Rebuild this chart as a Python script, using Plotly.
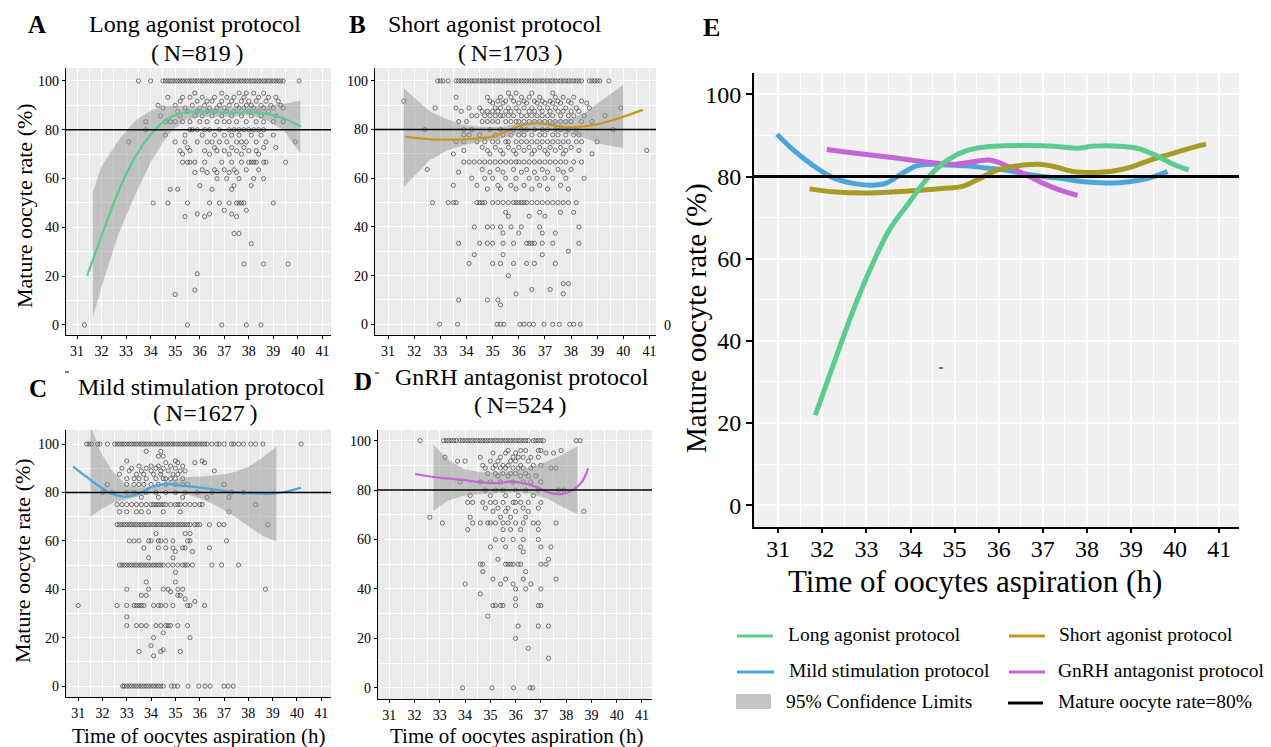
import plotly.graph_objects as go

W, H = 1271, 747
SERIF = "Liberation Serif"

# ------------------------------------------------------------------ data
x_ticks = [31, 32, 33, 34, 35, 36, 37, 38, 39, 40, 41]
y_ticks = [0, 20, 40, 60, 80, 100]
ref_rate = 80

# ---- Panel A : Long agonist protocol (N=819)
A_levels = [100, 95, 93.3, 91.7, 90, 88.9, 87.5, 85.7, 83.3, 80, 77.8, 75, 72.7, 71.4, 70,
            66.7, 63.6, 62.5, 60, 57.1, 55.6, 50, 47, 45.5, 44.4, 37.5, 33.3, 25, 21, 14.3, 12.5, 0]
A_level_x = [
    [33.5, 34.0, 34.5, 34.6, 34.7, 34.8, 34.9, 35.0, 35.1, 35.2, 35.3, 35.4, 35.5, 35.6, 35.7, 35.8,
     35.9, 36.0, 36.1, 36.2, 36.3, 36.4, 36.5, 36.6, 36.7, 36.8, 36.9, 37.0, 37.1, 37.2, 37.3, 37.4,
     37.5, 37.6, 37.7, 37.8, 37.9, 38.0, 38.1, 38.2, 38.3, 38.4, 38.5, 38.6, 38.7, 38.8, 38.9, 39.0,
     39.1, 39.2, 39.3, 39.4, 40.05],
    [35.8, 36.9, 37.6, 37.9, 38.2, 38.6],
    [34.7, 35.3, 35.6, 36.1, 36.6, 37.1, 37.4, 37.8, 38.4, 38.8, 39.1],
    [35.2, 35.9, 36.3, 36.5, 36.9, 37.3, 37.7, 38.0, 38.3, 38.7, 39.2],
    [34.3, 35.0, 35.7, 36.2, 36.8, 37.2, 37.5, 37.9, 38.1, 38.5, 38.9, 39.3],
    [34.5, 35.4, 36.0, 36.4, 36.7, 37.0, 37.6, 37.8, 38.2, 38.6, 39.0, 39.4],
    [35.1, 35.5, 35.9, 36.3, 36.6, 37.1, 37.4, 38.0, 38.4, 38.8],
    [34.4, 35.2, 35.8, 36.1, 36.5, 36.9, 37.3, 37.7, 38.1, 38.5, 39.1],
    [33.8, 34.6, 34.8, 35.0, 35.3, 35.6, 36.0, 36.3, 36.7, 37.0, 37.2, 37.5, 37.9, 38.3, 38.6, 39.0, 39.4],
    [33.8, 35.6, 35.7, 35.9, 36.2, 36.4, 36.8, 37.2, 37.4, 37.6, 37.8, 38.0, 38.2, 38.4, 38.6],
    [34.6, 35.4, 36.1, 36.6, 37.0, 37.3, 37.6, 38.1, 38.5, 39.0],
    [33.1, 35.0, 35.4, 35.9, 36.3, 36.5, 36.8, 37.1, 37.5, 37.7, 37.9, 38.3, 38.7, 39.9],
    [35.5, 36.6, 37.3, 37.8, 38.6, 39.1],
    [35.2, 35.6, 36.2, 36.7, 37.0, 37.5, 38.0, 38.3],
    [35.3, 36.4, 37.2, 37.7, 38.4],
    [35.3, 35.5, 35.6, 35.8, 36.2, 36.9, 37.3, 37.7, 38.0, 38.1, 38.2, 38.3, 38.6, 38.7, 39.5],
    [36.1, 36.6, 37.0, 37.4, 37.9, 38.4],
    [35.8, 36.3, 36.7, 37.2, 37.5],
    [36.7, 37.1, 37.6, 38.2, 38.6],
    [36.0, 37.4, 38.1],
    [34.8, 35.1, 36.5, 37.3],
    [34.1, 34.7, 35.5, 36.4, 36.8, 37.2, 37.5, 37.6, 37.7, 37.8, 39.0],
    [37.0, 37.9],
    [35.9, 36.4, 37.3],
    [35.4, 36.2, 37.5],
    [37.4, 37.6],
    [38.1],
    [37.8, 38.6, 39.6],
    [35.9],
    [35.8],
    [35.0],
    [31.3, 35.5, 36.9, 37.9, 38.5],
]
A_curve_x = [31.41, 32.04, 32.71, 33.38, 34.05, 34.72, 35.39, 36.05, 36.72, 37.39, 38.06, 38.73, 39.40, 40.13]
A_curve_y = [20.1, 37.6, 55.3, 69.0, 78.6, 84.7, 87.0, 87.4, 87.2, 87.0, 87.2, 86.5, 84.7, 81.3]
A_band_x = [31.65, 32.0, 32.7, 33.4, 34.05, 34.7, 35.4, 36.05, 36.7, 37.4, 38.05, 38.7, 39.4, 40.1]
A_band_hi = [54.6, 65.0, 75.8, 84.0, 88.1, 89.8, 89.8, 89.2, 89.0, 89.2, 89.5, 89.8, 90.6, 91.9]
A_band_lo = [3.4, 15.7, 37.6, 54.0, 67.6, 77.9, 84.0, 85.4, 85.4, 85.4, 86.0, 84.0, 80.0, 70.4]

# ---- Panel B : Short agonist protocol (N=1703)
B_levels = [100, 95, 93.3, 91.7, 90.9, 88.9, 87.5, 85.7, 83.3, 80, 77.8, 75, 72.7, 71.4, 70, 66.7,
            63.6, 62.5, 60, 57.1, 55.6, 50, 46, 44.4, 40, 37.5, 33.3, 30, 28.6, 25, 20, 16.7, 14.3,
            12.5, 10, 8, 0]
B_level_x = [
    [32.9, 33.0, 33.1, 33.3, 33.6, 33.7, 33.8, 33.9, 34.0, 34.1, 34.2, 34.3, 34.4, 34.5, 34.6, 34.7,
     34.8, 34.9, 35.0, 35.1, 35.2, 35.3, 35.4, 35.5, 35.6, 35.7, 35.8, 35.9, 36.0, 36.1, 36.2, 36.3,
     36.4, 36.5, 36.6, 36.7, 36.8, 36.9, 37.0, 37.1, 37.2, 37.3, 37.4, 37.5, 37.6, 37.7, 37.8, 37.9,
     38.0, 38.1, 38.2, 38.3, 38.4, 38.7, 38.8, 38.9, 39.0, 39.1, 39.45],
    [35.6, 35.9, 36.5, 37.3],
    [33.6, 34.8, 35.3, 35.7, 36.1, 36.4, 36.8, 37.4, 37.7, 38.1],
    [31.6, 34.9, 35.2, 35.5, 35.8, 36.2, 36.6, 36.9, 37.2, 37.5, 37.9, 38.4],
    [35.0, 35.4, 36.0, 36.3, 36.7, 37.0, 37.3, 37.6, 38.0, 38.6],
    [32.8, 33.6, 34.1, 34.5, 35.1, 35.3, 35.6, 35.9, 36.2, 36.5, 36.8, 37.1, 37.4, 37.8, 38.2, 38.7, 39.9],
    [33.8, 34.6, 34.8, 35.0, 35.2, 35.5, 35.7, 36.0, 36.4, 36.6, 36.9, 37.2, 37.5, 37.7, 38.0, 38.3],
    [34.2, 34.4, 34.7, 34.9, 35.1, 35.3, 35.4, 35.6, 35.8, 36.1, 36.3, 36.5, 36.7, 36.9, 37.1, 37.3,
     37.6, 37.9, 38.1, 38.5, 39.3],
    [33.7, 34.0, 34.6, 34.8, 35.0, 35.2, 35.5, 35.7, 35.9, 36.0, 36.2, 36.4, 36.6, 36.8, 37.0, 37.2,
     37.4, 37.6, 37.8, 38.0, 38.4, 38.8],
    [32.4, 33.9, 34.2, 34.9, 35.3, 35.8, 36.1, 36.3, 36.6, 36.9, 37.1, 37.4, 37.6, 37.9, 38.2, 39.6],
    [33.9, 34.1, 34.5, 35.1, 35.4, 35.7, 36.0, 36.2, 36.5, 36.8, 37.0, 37.3, 37.5, 37.8, 38.1, 38.3],
    [33.6, 33.9, 34.4, 34.7, 35.0, 35.2, 35.5, 35.6, 35.9, 36.1, 36.3, 36.5, 36.7, 36.9, 37.1, 37.3,
     37.5, 37.7, 37.9, 38.2, 38.4, 39.0],
    [34.6, 35.1, 35.6, 36.0, 36.4, 36.8, 37.2, 37.6, 38.0],
    [33.9, 34.8, 35.3, 35.8, 36.2, 36.6, 37.0, 37.4, 37.8, 38.3, 40.9],
    [33.5, 34.9, 35.4, 35.9, 36.5, 37.1, 37.7, 38.8],
    [33.9, 34.1, 34.3, 34.5, 34.7, 34.9, 35.1, 35.3, 35.5, 35.7, 35.9, 36.0, 36.2, 36.4, 36.6, 36.8,
     37.0, 37.2, 37.4, 37.6, 37.8, 38.1, 38.4],
    [32.5, 34.6, 35.2, 35.8, 36.3, 36.9, 37.5, 38.0],
    [33.7, 34.9, 35.4, 36.1, 36.6, 37.1, 37.7],
    [34.2, 34.7, 35.0, 35.5, 35.9, 36.4, 36.7, 37.0, 37.3, 37.8, 38.5],
    [33.5, 34.4, 35.2, 35.7, 36.2, 36.8, 37.6],
    [34.8, 35.3, 35.9, 36.5, 37.1, 37.9],
    [32.7, 33.3, 33.5, 33.6, 34.4, 34.5, 34.6, 34.7, 35.0, 35.2, 35.4, 35.6, 35.8, 35.9, 36.0, 36.1,
     36.2, 36.3, 36.5, 36.7, 36.9, 37.1, 37.3, 37.5, 37.7, 37.9, 38.2],
    [35.5, 36.8, 37.6, 38.1],
    [35.6, 36.4, 37.0],
    [34.3, 34.8, 35.0, 35.3, 35.7, 36.1, 36.8, 38.3],
    [35.4, 36.0, 36.9, 37.4],
    [33.7, 34.5, 34.8, 35.0, 35.4, 35.8, 36.3, 36.4, 36.5, 36.6, 36.9, 37.3, 38.3],
    [37.9],
    [34.3, 35.4, 36.9],
    [34.1, 35.0, 35.3, 35.8, 36.3, 36.6, 37.4],
    [35.6],
    [37.7, 37.9],
    [36.5, 37.2],
    [35.9, 37.7],
    [33.7, 34.8, 35.2],
    [35.3],
    [32.97, 33.66, 35.17, 35.3, 35.43, 36.04, 36.2, 36.4, 36.56, 36.97, 37.3, 37.55, 37.95, 38.1, 38.35],
]
B_curve_x = [31.65, 32.63, 33.94, 34.99, 35.51, 36.03, 36.69, 37.21, 37.86, 38.65, 39.17, 39.82, 40.74]
B_curve_y = [77.1, 76.0, 76.0, 77.1, 79.1, 81.5, 82.6, 81.9, 80.9, 81.5, 82.6, 84.6, 88.1]
B_band_x = [31.6, 32.1, 32.6, 33.3, 33.9, 34.6, 35.25, 35.9, 36.55, 37.2, 37.85, 38.5, 39.2, 40.0]
B_band_hi = [97.0, 92.2, 87.4, 84.0, 81.9, 81.2, 81.2, 82.3, 83.7, 83.7, 84.0, 86.7, 92.2, 98.4]
B_band_lo = [56.5, 62.0, 67.5, 71.6, 73.7, 75.0, 76.0, 78.0, 79.3, 79.6, 78.6, 76.5, 74.0, 72.3]

# ---- Panel C : Mild stimulation protocol (N=1627)
C_levels = [100, 97, 95, 93, 92.3, 90.9, 90, 88.9, 87.5, 85.7, 83.3, 80, 78, 75, 72, 66.7, 63, 60,
            57.1, 55.6, 53, 50, 47, 43, 40, 39, 37.5, 36, 35, 33.3, 28.6, 25, 22, 20, 16.7, 15,
            14.3, 12.5, 0]
C_level_x = [
    [31.35, 31.45, 31.55, 31.8, 31.9, 32.2, 32.5, 32.6, 32.7, 32.8, 32.9, 33.0, 33.1, 33.2, 33.3,
     33.4, 33.5, 33.6, 33.7, 33.8, 33.9, 34.0, 34.1, 34.2, 34.3, 34.4, 34.5, 34.6, 34.7, 34.8, 34.9,
     35.0, 35.1, 35.2, 35.3, 35.4, 35.5, 35.6, 35.7, 35.8, 35.9, 36.0, 36.1, 36.2, 36.3, 36.5, 36.7,
     36.8, 37.0, 37.3, 37.4, 37.6, 37.8, 38.1, 38.3, 38.6, 40.17],
    [33.8, 34.4],
    [34.3, 34.5],
    [33.0, 35.0, 36.1],
    [34.6, 35.1, 35.8, 36.2],
    [33.5, 34.0, 34.3, 34.8, 35.3],
    [32.8, 33.2, 33.8, 34.2, 34.5, 35.0],
    [33.1, 33.6, 34.0, 34.4, 34.7, 35.2, 35.4, 36.6],
    [32.7, 33.4, 33.7, 34.1, 34.4, 34.9, 35.1],
    [33.0, 33.3, 33.5, 33.8, 34.2, 34.5, 34.6, 34.8, 35.0, 35.3],
    [32.2, 33.0, 33.3, 33.5, 33.7, 34.0, 34.3, 34.6, 35.0, 35.3, 35.5, 37.0],
    [32.0, 32.4, 33.0, 33.3, 33.8, 34.2, 34.6, 35.0, 35.4, 35.9, 36.5, 37.3, 37.8],
    [33.6, 34.3, 35.3, 36.3, 37.2],
    [32.6, 32.8, 33.0, 33.2, 33.4, 33.6, 33.8, 34.0, 34.1, 34.2, 34.3, 34.4, 34.5, 34.6, 34.8, 35.0,
     35.1, 35.2, 35.4, 35.6, 35.8, 36.0, 36.1, 38.3],
    [32.7, 33.0, 33.4, 33.6, 33.9, 34.5, 35.2, 37.2],
    [32.6, 32.7, 32.8, 32.9, 33.0, 33.1, 33.2, 33.3, 33.4, 33.5, 33.6, 33.7, 33.8, 33.9, 34.0, 34.1,
     34.2, 34.3, 34.4, 34.5, 34.6, 34.7, 34.8, 34.9, 35.0, 35.1, 35.2, 35.3, 35.4, 35.5, 35.6, 35.8,
     35.9, 36.0, 36.4, 36.8, 37.0, 38.8],
    [34.2, 35.4, 35.6],
    [33.1, 33.3, 33.5, 33.9, 34.0, 34.3, 34.4, 34.6, 34.9, 35.5, 35.6, 37.1],
    [33.7, 34.3, 34.6, 34.9, 35.3, 35.4, 36.4],
    [35.0, 35.7],
    [33.9, 34.9],
    [32.7, 32.8, 32.9, 33.0, 33.1, 33.2, 33.3, 33.4, 33.5, 33.6, 33.7, 33.8, 33.9, 34.0, 34.1, 34.2,
     34.3, 34.4, 34.5, 34.7, 34.9, 35.1, 35.3, 35.4, 35.5, 35.7, 36.5, 36.9, 37.6],
    [35.0],
    [33.8, 35.0],
    [33.0, 33.9, 34.5, 34.7, 35.1, 35.3, 38.7],
    [34.8],
    [33.6, 33.8, 35.1, 35.2],
    [35.4],
    [35.8],
    [31.0, 32.6, 33.0, 33.3, 33.4, 33.5, 33.6, 33.7, 34.1, 34.3, 34.4, 34.6, 34.9, 35.5, 35.6, 36.2],
    [33.0],
    [33.0, 33.4, 33.6, 33.8, 34.2, 34.4, 34.6, 34.7, 34.8, 35.1, 35.5],
    [34.5],
    [34.1, 35.6],
    [34.0],
    [34.5],
    [33.5, 34.4, 35.2],
    [34.1],
    [32.83, 32.9, 33.0, 33.1, 33.2, 33.3, 33.4, 33.5, 33.6, 33.7, 33.8, 33.9, 34.0, 34.1, 34.2, 34.3,
     34.4, 34.5, 34.83, 34.95, 35.09, 35.52, 35.96, 36.22, 36.43, 37.0, 37.17, 37.38],
]
C_curve_x = [30.79, 31.32, 31.87, 32.42, 32.98, 33.53, 34.08, 34.64, 35.33, 36.02, 36.71, 37.40,
             38.10, 38.79, 39.48, 40.17]
C_curve_y = [90.7, 86.6, 82.5, 79.3, 78.3, 79.7, 82.5, 83.4, 82.7, 82.0, 81.1, 80.2, 79.7, 79.4, 80.2, 82.0]
C_band_x = [31.5, 31.9, 32.4, 33.0, 33.6, 34.2, 34.8, 35.4, 36.0, 36.6, 37.3, 38.0, 38.6, 39.15]
C_band_hi = [108.0, 97.0, 89.0, 83.0, 82.0, 83.0, 85.0, 86.3, 86.6, 87.0, 88.0, 90.5, 94.5, 99.0]
C_band_lo = [70.0, 72.8, 75.6, 77.2, 78.6, 80.2, 80.3, 79.5, 77.6, 75.0, 71.0, 66.0, 62.0, 59.7]

# ---- Panel D : GnRH antagonist protocol (N=524)
D_levels = [100, 96, 95, 93.3, 91.7, 90, 88.9, 86.7, 85.7, 83.3, 80, 77.8, 75, 72.7, 71.4, 69,
            66.7, 64, 60, 57, 55, 52, 50, 47, 44, 42, 40, 38, 36, 33.3, 29, 25, 20, 16, 12, 0]
D_level_x = [
    [32.22, 33.15, 33.25, 33.35, 33.45, 33.55, 33.65, 33.8, 33.9, 34.0, 34.1, 34.2, 34.3, 34.4, 34.5,
     34.6, 34.7, 34.8, 34.9, 35.0, 35.1, 35.2, 35.3, 35.4, 35.5, 35.6, 35.7, 35.8, 35.9, 36.0, 36.1,
     36.2, 36.3, 36.4, 36.5, 36.7, 36.8, 36.9, 37.0, 37.1, 38.4, 38.55],
    [35.7, 36.2, 36.4, 36.9, 37.0, 37.8],
    [35.1, 35.6, 36.0, 37.2, 37.5],
    [33.2, 34.6, 35.4, 35.9, 36.1, 36.3, 36.6, 36.9],
    [33.7, 34.0, 35.0, 35.3, 35.8, 36.0, 36.5],
    [34.7, 35.2, 35.5, 35.7, 36.2, 36.7, 37.0],
    [34.8, 35.1, 35.4, 35.6, 35.9, 36.1, 36.3, 36.6, 37.4, 37.6],
    [34.9, 35.2, 35.5, 35.8, 36.0, 36.4],
    [35.3, 35.7, 36.2, 36.5, 36.8],
    [33.8, 34.6, 35.0, 35.4, 35.9, 36.3, 36.6, 37.0],
    [34.8, 35.2, 35.5, 36.0, 36.4, 36.9, 37.7, 37.9],
    [34.2, 35.0, 35.6, 36.1, 36.7],
    [34.1, 34.3, 34.7, 35.0, 35.2, 35.5, 35.9, 36.0, 36.2, 36.5, 37.0],
    [34.8, 35.3, 35.7, 36.3, 36.9],
    [35.1, 35.6, 36.0, 36.5, 38.7],
    [32.6, 34.2, 35.4, 35.8, 36.4],
    [33.1, 34.3, 34.6, 34.9, 35.0, 35.2, 35.5, 35.7, 36.0, 36.3, 36.7, 36.9, 37.6],
    [34.1, 35.5, 35.8, 36.2, 36.9],
    [35.2, 35.5, 35.9, 36.3, 36.9],
    [35.0, 35.6, 36.2, 37.0, 37.4],
    [36.3],
    [35.3, 37.3],
    [34.6, 34.7, 35.6, 35.7, 35.8, 35.9, 36.1, 36.2, 37.0, 37.2],
    [34.7, 36.4],
    [35.1, 35.6, 36.3, 37.6],
    [34.0, 35.4, 35.9, 36.6],
    [36.0, 36.4, 37.0],
    [34.6],
    [36.0],
    [35.1, 35.2, 35.4, 35.5, 36.0, 36.9, 37.0],
    [34.9],
    [36.1, 36.9, 37.3],
    [36.0],
    [36.5],
    [37.3],
    [33.9, 35.06, 35.92, 36.57, 36.68],
]
D_curve_x = [32.02, 32.62, 33.29, 33.95, 34.62, 35.28, 35.81, 36.35, 36.88, 37.28, 37.81, 38.21, 38.61, 38.87]
D_curve_y = [86.5, 85.5, 84.7, 84.1, 83.1, 82.8, 83.4, 82.7, 81.1, 79.1, 78.4, 79.7, 83.1, 88.8]
D_band_x = [32.75, 33.3, 33.95, 34.6, 35.3, 35.95, 36.6, 37.3, 37.9, 38.45]
D_band_hi = [98.2, 92.6, 88.5, 87.2, 87.2, 87.8, 89.2, 91.9, 94.6, 97.7]
D_band_lo = [71.6, 75.7, 77.7, 78.4, 78.8, 79.1, 78.4, 76.4, 73.0, 70.3]

# ---- Panel E : fitted curves of all four protocols
E_long_x = [31.84, 32.23, 32.67, 33.10, 33.53, 33.97, 34.40, 34.84, 35.27, 35.70, 36.14, 37.00,
            37.44, 37.79, 38.14, 38.74, 39.18, 39.61, 39.96, 40.31]
E_long_y = [21.9, 33.6, 46.6, 57.8, 67.2, 73.7, 79.8, 84.0, 86.3, 87.2, 87.5, 87.5, 87.2, 86.9,
            87.4, 87.4, 86.8, 84.9, 83.0, 81.6]
E_mild_x = [30.97, 31.36, 31.80, 32.23, 32.67, 33.10, 33.45, 33.80, 34.14, 34.49, 34.84, 35.27,
            35.70, 36.14, 36.57, 37.00, 37.44, 37.88, 38.31, 38.74, 39.18, 39.52, 39.83]
E_mild_y = [90.3, 86.3, 82.6, 79.8, 78.4, 77.9, 78.4, 80.7, 82.6, 83.0, 82.8, 82.6, 82.1, 81.6,
            80.7, 80.0, 79.5, 78.8, 78.5, 78.5, 79.1, 80.0, 81.2]
E_gnrh_x = [32.10, 32.67, 33.53, 34.40, 35.01, 35.53, 35.79, 36.14, 36.57, 37.00, 37.44, 37.79]
E_gnrh_y = [86.6, 85.8, 84.7, 83.5, 83.0, 83.8, 84.0, 82.8, 80.7, 78.4, 76.5, 75.4]
E_short_x = [31.71, 32.23, 33.10, 33.97, 34.84, 35.18, 35.53, 35.88, 36.23, 36.57, 36.92, 37.27,
             37.70, 38.14, 38.57, 39.00, 39.44, 39.87, 40.31, 40.70]
E_short_y = [77.0, 76.3, 76.0, 76.5, 77.2, 77.6, 79.3, 81.2, 82.3, 82.8, 83.0, 82.4, 81.2, 81.0,
             81.3, 82.3, 84.0, 85.4, 86.8, 87.9]

legend_labels = ["Long agonist protocol", "Short agonist protocol",
                 "Mild stimulation protocol", "GnRH antagonist protocol",
                 "95% Confidence Limits", "Mature oocyte rate=80%"]

# ------------------------------------------------------------------ style
GREEN = "#5BCB8F"
BLUE = "#4DA6DA"
GOLD = "#C8961F"
OLIVE = "#A69C24"
PURPLE = "#C466D6"
BAND = "rgba(150,150,150,0.5)"
PT = "rgba(55,55,55,0.85)"

# panel geometry in page pixels (layout only)
geom = {
    1: dict(px=(66, 331), py=(68, 335), xr=[30.55, 41.35], yr=[-4.1, 105.3]),
    2: dict(px=(375, 656), py=(68, 335), xr=[30.5, 41.25], yr=[-4.4, 105.3]),
    3: dict(px=(66, 331), py=(430, 697), xr=[30.5, 41.4], yr=[-4.5, 105.8]),
    4: dict(px=(378, 652), py=(430, 699), xr=[30.55, 41.4], yr=[-4.5, 104.3]),
    5: dict(px=(754, 1239), py=(73, 527), xr=[30.45, 41.45], yr=[-5.3, 105.2]),
}


def fx(p):
    return p / W


def fy(p):
    return 1 - p / H


def flatten(levels, level_x):
    xs, ys = [], []
    for lv, row in zip(levels, level_x):
        xs.extend(row)
        ys.extend([lv] * len(row))
    return xs, ys


def ax_names(i):
    return ("x" if i == 1 else f"x{i}"), ("y" if i == 1 else f"y{i}")


fig = go.Figure()

small_panels = [
    (1, A_levels, A_level_x, A_band_x, A_band_hi, A_band_lo, A_curve_x, A_curve_y, GREEN),
    (2, B_levels, B_level_x, B_band_x, B_band_hi, B_band_lo, B_curve_x, B_curve_y, GOLD),
    (3, C_levels, C_level_x, C_band_x, C_band_hi, C_band_lo, C_curve_x, C_curve_y, BLUE),
    (4, D_levels, D_level_x, D_band_x, D_band_hi, D_band_lo, D_curve_x, D_curve_y, PURPLE),
]

for i, lv, lx, bx, bhi, blo, cx, cy, col in small_panels:
    xa, ya = ax_names(i)
    px_, py_ = flatten(lv, lx)
    fig.add_trace(go.Scatter(x=px_, y=py_, mode="markers", xaxis=xa, yaxis=ya,
                             marker=dict(symbol="circle-open", size=4.2, color=PT,
                                         line=dict(width=0.8, color=PT)),
                             showlegend=False, hoverinfo="skip"))
    fig.add_trace(go.Scatter(x=bx + bx[::-1], y=bhi + blo[::-1], fill="toself",
                             fillcolor=BAND, line=dict(width=0), mode="lines",
                             xaxis=xa, yaxis=ya, showlegend=False, hoverinfo="skip"))
    fig.add_trace(go.Scatter(x=cx, y=cy, mode="lines", line=dict(color=col, width=2.2, shape="spline"),
                             xaxis=xa, yaxis=ya, showlegend=False))

for cx, cy, col in [(E_mild_x, E_mild_y, BLUE), (E_gnrh_x, E_gnrh_y, PURPLE),
                    (E_short_x, E_short_y, OLIVE), (E_long_x, E_long_y, GREEN)]:
    fig.add_trace(go.Scatter(x=cx, y=cy, mode="lines", line=dict(color=col, width=5, shape="spline"),
                             xaxis="x5", yaxis="y5", showlegend=False))

layout = dict(width=W, height=H, margin=dict(l=0, r=0, t=0, b=0),
              paper_bgcolor="white", plot_bgcolor="#EBEBEB", showlegend=False,
              font=dict(family=SERIF, color="black"))

for i, g in geom.items():
    big = (i == 5)
    xk = "xaxis" if i == 1 else f"xaxis{i}"
    yk = "yaxis" if i == 1 else f"yaxis{i}"
    xa, ya = ax_names(i)
    tf = dict(family=SERIF, size=24 if big else 14, color="black")
    layout[xk] = dict(domain=[fx(g["px"][0]), fx(g["px"][1])], range=g["xr"], anchor=ya,
                      tickvals=x_ticks, showline=True, linecolor="black",
                      linewidth=2 if big else 1.3, ticks="outside", ticklen=4 if big else 3,
                      tickwidth=1.5 if big else 1, tickcolor="black", tickfont=tf,
                      ticklabelstandoff=-5 if big else 0,
                      showgrid=True, gridcolor="white", gridwidth=1.6 if big else 1.1,
                      minor=dict(dtick=0.5, tick0=30.5, showgrid=True, gridcolor="white",
                                 gridwidth=0.8 if big else 0.5),
                      zeroline=False, fixedrange=True)
    layout[yk] = dict(domain=[fy(g["py"][1]), fy(g["py"][0])], range=g["yr"], anchor=xa,
                      tickvals=y_ticks, showline=True, linecolor="black",
                      linewidth=2 if big else 1.3, ticks="outside", ticklen=6 if big else 3,
                      tickwidth=1.5 if big else 1, tickcolor="black", tickfont=tf,
                      showgrid=True, gridcolor="white", gridwidth=1.6 if big else 1.1,
                      minor=dict(dtick=10, tick0=0, showgrid=True, gridcolor="white",
                                 gridwidth=0.8 if big else 0.5),
                      zeroline=False, fixedrange=True)

fig.update_layout(**layout)

shapes = []
shapes.append(dict(type="rect", xref="x5 domain", yref="y5 domain", x0=0, x1=1, y0=0, y1=1,
                   fillcolor="#F0F0F0", line=dict(width=0), layer="below"))
for i in range(1, 6):
    xa, ya = ax_names(i)
    shapes.append(dict(type="line", xref=f"{xa} domain", yref=ya, x0=0, x1=1,
                       y0=ref_rate, y1=ref_rate,
                       line=dict(color="black", width=3 if i == 5 else 1.5), layer="above"))

annotations = []


def ann(text, x, y, size, bold=False, angle=0, xanchor="center"):
    annotations.append(dict(text=f"<b>{text}</b>" if bold else text, x=fx(x), y=fy(y),
                            xref="paper", yref="paper", showarrow=False, textangle=angle,
                            xanchor=xanchor, yanchor="middle",
                            font=dict(family=SERIF, size=size, color="black")))


TS = "\u2009"
ann("A", 37, 25, 25, bold=True)
ann("B", 357, 25, 25, bold=True)
ann("C", 38, 388, 25, bold=True)
ann("D", 363, 381, 25, bold=True)
ann("E", 711, 27, 26, bold=True)
ann("Long agonist protocol", 195, 24, 24)
ann(f"({TS}N=819{TS})", 197, 53, 24)
ann("Short agonist protocol", 495, 24, 24)
ann(f"({TS}N=1703{TS})", 510, 53, 24)
ann("Mild stimulation protocol", 201, 387, 24)
ann(f"({TS}N=1627{TS})", 205, 413, 24)
ann("GnRH antagonist protocol", 522, 377, 24)
ann(f"({TS}N=524{TS})", 520, 405, 24)
ann("Mature oocyte rate (%)", 24, 206, 22, angle=-90)
ann("Mature oocyte rate (%)", 22, 561, 22, angle=-90)
ann("Time of oocytes aspiration (h)", 199, 736, 21)
ann("Time of oocytes aspiration (h)", 517, 736, 21)
ann("Mature oocyte rate (%)", 696, 318, 29, angle=-90)
ann("Time of oocytes aspiration (h)", 975, 581, 31)
ann("0", 667, 325, 14)

leg_rows = [634, 670, 701]
leg_items = [
    (legend_labels[0], "line", GREEN, 737, 773, 786, leg_rows[0]),
    (legend_labels[1], "line", GOLD, 1009, 1045, 1057, leg_rows[0]),
    (legend_labels[2], "line", BLUE, 737, 774, 787, leg_rows[1]),
    (legend_labels[3], "line", PURPLE, 1009, 1045, 1056, leg_rows[1]),
    (legend_labels[4], "rect", "#C4C4C4", 736, 771, 784, leg_rows[2]),
    (legend_labels[5], "line", "black", 1008, 1043, 1056, leg_rows[2]),
]
for text, kind, col, x0, x1, tx, y in leg_items:
    if kind == "line":
        shapes.append(dict(type="line", xref="paper", yref="paper", x0=fx(x0), x1=fx(x1),
                           y0=fy(y + 2), y1=fy(y + 2), line=dict(color=col, width=3)))
    else:
        shapes.append(dict(type="rect", xref="paper", yref="paper", x0=fx(x0), x1=fx(x1),
                           y0=fy(y + 8), y1=fy(y - 7), fillcolor=col, line=dict(width=0)))
    ann(text, tx, y, 19.5, xanchor="left")

for (mx, my) in [(67, 372), (377, 373), (941, 368)]:
    shapes.append(dict(type="line", xref="paper", yref="paper", x0=fx(mx - 2), x1=fx(mx + 2),
                       y0=fy(my), y1=fy(my), line=dict(color="black", width=1)))

fig.update_layout(shapes=shapes, annotations=annotations)
fig.write_html("out.html", config={"displayModeBar": False},
               post_script="document.body.style.margin='0px';document.body.style.overflow='hidden';")
